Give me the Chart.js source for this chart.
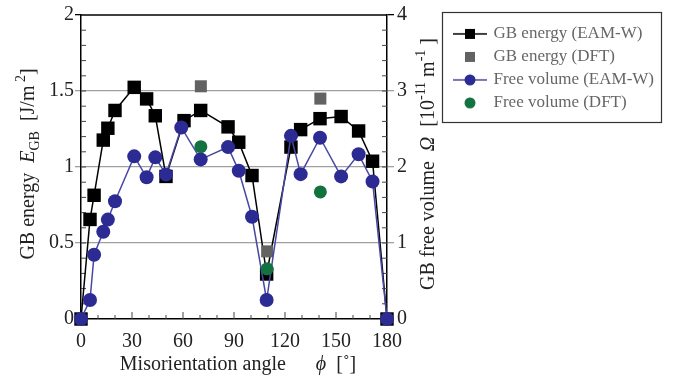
<!DOCTYPE html>
<html>
<head>
<meta charset="utf-8">
<script src="https://cdn.jsdelivr.net/npm/chart.js@4"></script>
<style>
html, body { margin: 0; padding: 0; background: #fff; }
#wrap { width: 681px; height: 381px; }
</style>
</head>
<body>
<div id="wrap"><canvas id="myChart" width="681" height="381"></canvas></div>
<script>
// misorientation angles (deg) of the EAM-W boundaries
const angles = [0, 5.3, 7.7, 13.1, 15.8, 20, 31.3, 38.6, 43.7, 50, 60.6, 70.4, 86.5, 92.8, 100.6, 109.2, 123.5, 129.2, 140.6, 153, 163.3, 171.5, 180];
const energyEAM = [0, 0.655, 0.814, 1.177, 1.255, 1.372, 1.524, 1.448, 1.337, 0.938, 1.305, 1.372, 1.264, 1.163, 0.944, 0.296, 1.131, 1.246, 1.318, 1.332, 1.237, 1.038, 0];
const volumeAngles = [0, 5.3, 7.7, 13.1, 15.8, 20, 31.3, 38.6, 43.7, 50, 59, 70.4, 86.5, 92.8, 100.6, 109.2, 123.5, 129.2, 140.6, 153, 163.3, 171.5, 180];
const volumeEAM = [0, 0.25, 0.845, 1.148, 1.308, 1.55, 2.14, 1.865, 2.127, 1.9, 2.52, 2.1, 2.262, 1.95, 1.345, 0.25, 2.41, 1.906, 2.385, 1.876, 2.167, 1.81, 0];
const dftAngles = [70.5, 109.5, 140.8];
const energyDFT = [1.531, 0.445, 1.45];
const volumeDFT = [2.267, 0.66, 1.672];

const xTicks = [0, 30, 60, 90, 120, 150, 180];
const energyTicks = [0, 0.5, 1, 1.5, 2];
const volumeTicks = [0, 1, 2, 3, 4];

const SERIF = "'Liberation Serif', 'Times New Roman', Times, serif";
const BLUE = '#2b2b93';
const BLUE_LINE = '#4848a2';
const GREEN = '#137340';
const GRAY = '#626262';
const GRID = '#a0a0a0';

function pairs(xs, ys) {
    return xs.map((x, i) => ({ x: x, y: ys[i] }));
}

// small canvas used as legend symbol (line + marker)
function legendIcon(lineColor, marker, fill, size) {
    const c = document.createElement('canvas');
    c.width = 36;
    c.height = 16;
    const g = c.getContext('2d');
    if (lineColor) {
        g.strokeStyle = lineColor;
        g.lineWidth = 1.5;
        g.beginPath();
        g.moveTo(1, 8);
        g.lineTo(35, 8);
        g.stroke();
    }
    g.fillStyle = fill;
    if (marker === 'rect') {
        g.fillRect(18 - size / 2, 8 - size / 2, size, size);
    } else {
        g.beginPath();
        g.arc(18, 8, size / 2, 0, Math.PI * 2);
        g.fill();
    }
    return c;
}

const icons = [
    legendIcon('#000', 'rect', '#000', 10),
    legendIcon(null, 'rect', GRAY, 10),
    legendIcon(BLUE_LINE, 'circle', BLUE, 11),
    legendIcon(null, 'circle', GREEN, 11)
];

// draw text pieces (sub/superscripts, italics) around a centre point
function drawRich(ctx, parts, cx, cy, rot) {
    ctx.save();
    ctx.translate(cx, cy);
    ctx.rotate(rot);
    ctx.fillStyle = '#222';
    ctx.textBaseline = 'alphabetic';
    ctx.textAlign = 'left';
    let total = 0;
    parts.forEach(p => {
        ctx.font = p.font;
        p.w = ctx.measureText(p.t).width;
        total += p.w;
    });
    let x = -total / 2;
    parts.forEach(p => {
        ctx.font = p.font;
        ctx.fillText(p.t, x, 7 + (p.dy || 0));
        x += p.w;
    });
    ctx.restore();
}

const N = '20px ' + SERIF;
const I = 'italic 20px ' + SERIF;
const S = '14px ' + SERIF;

const framePlugin = {
    id: 'frame',
    beforeDatasetsDraw(chart) {
        const { ctx, chartArea: a, scales } = chart;
        ctx.save();
        ctx.strokeStyle = '#000';
        ctx.lineWidth = 1.5;
        ctx.beginPath();
        ctx.moveTo(a.left, a.top);
        ctx.lineTo(a.right, a.top);
        ctx.stroke();
        ctx.strokeStyle = '#444';
        ctx.lineWidth = 1;
        ctx.beginPath();
        // inner ticks on the angle axis
        for (let v = 10; v < 180; v += 10) {
            const px = scales.x.getPixelForValue(v);
            const len = v % 30 === 0 ? 7 : 4;
            ctx.moveTo(px, a.bottom);
            ctx.lineTo(px, a.bottom - len);
        }
        // inner minor ticks, energy axis
        for (let k = 1; k < 20; k++) {
            const py = scales.y.getPixelForValue(k / 10);
            ctx.moveTo(a.left, py);
            ctx.lineTo(a.left + 5, py);
        }
        // inner minor ticks, volume axis
        for (let k = 1; k < 20; k++) {
            const py = scales.y2.getPixelForValue(k / 5);
            ctx.moveTo(a.right, py);
            ctx.lineTo(a.right - 5, py);
        }
        ctx.stroke();
        ctx.restore();
    },
    afterDraw(chart) {
        const { ctx, chartArea: a, legend } = chart;
        const midY = (a.top + a.bottom) / 2 - 3;
        drawRich(ctx, [
            { t: 'GB energy', font: N },
            { t: '  ', font: N },
            { t: 'E', font: I },
            { t: 'GB', font: S, dy: 5 },
            { t: '  [J/m', font: N },
            { t: ' 2', font: S, dy: -9 },
            { t: ']', font: N }
        ], 27, midY, -Math.PI / 2);
        drawRich(ctx, [
            { t: 'GB free volume', font: N },
            { t: '  ', font: N },
            { t: '\u03A9', font: I },
            { t: '  [10', font: N },
            { t: '-11', font: S, dy: -9 },
            { t: ' m', font: N },
            { t: '-1', font: S, dy: -9 },
            { t: ' ]', font: N }
        ], a.right + 40, midY, -Math.PI / 2);
        drawRich(ctx, [
            { t: 'Misorientation angle', font: N },
            { t: '      ', font: N },
            { t: '\u03D5', font: I },
            { t: '  [\u02DA]', font: N }
        ], (a.left + a.right) / 2 + 4, 363, 0);
        // legend frame
        ctx.save();
        ctx.strokeStyle = '#333';
        ctx.lineWidth = 1.2;
        ctx.strokeRect(legend.left - 6.5, legend.top + 0.5, 219, 110);
        ctx.restore();
    }
};

function tickText(v) {
    return String(v);
}

function draw() {
    const ctx = document.getElementById('myChart').getContext('2d');
    new Chart(ctx, {
        type: 'line',
        data: {
            datasets: [{
                label: 'GB energy (EAM-W)',
                data: pairs(angles, energyEAM),
                yAxisID: 'y',
                clip: false,
                borderColor: '#000',
                borderWidth: 1.5,
                pointStyle: 'rect',
                pointRadius: 9.5,
                pointBackgroundColor: '#000',
                pointBorderColor: '#000',
                pointBorderWidth: 0,
                order: 4
            }, {
                label: 'GB energy (DFT)',
                data: pairs(dftAngles, energyDFT),
                yAxisID: 'y',
                clip: false,
                showLine: false,
                pointStyle: 'rect',
                pointRadius: 8.5,
                pointBackgroundColor: GRAY,
                pointBorderColor: GRAY,
                pointBorderWidth: 0,
                order: 3
            }, {
                label: 'Free volume (EAM-W)',
                data: pairs(volumeAngles, volumeEAM),
                yAxisID: 'y2',
                clip: false,
                borderColor: BLUE_LINE,
                borderWidth: 1.5,
                pointStyle: 'circle',
                pointRadius: 7,
                pointBackgroundColor: BLUE,
                pointBorderColor: BLUE,
                pointBorderWidth: 0,
                order: 2
            }, {
                label: 'Free volume (DFT)',
                data: pairs(dftAngles, volumeDFT),
                yAxisID: 'y2',
                clip: false,
                showLine: false,
                pointStyle: 'circle',
                pointRadius: 6.5,
                pointBackgroundColor: GREEN,
                pointBorderColor: GREEN,
                pointBorderWidth: 0,
                order: 1
            }]
        },
        options: {
            responsive: false,
            animation: false,
            devicePixelRatio: 1,
            layout: { padding: { top: 12, right: 18, bottom: 0, left: 0 } },
            scales: {
                x: {
                    type: 'linear',
                    min: 0,
                    max: 180,
                    afterBuildTicks: s => { s.ticks = xTicks.map(v => ({ value: v })); },
                    afterFit: s => { s.height = 62; },
                    grid: { drawOnChartArea: false, drawTicks: false },
                    border: { color: '#000', width: 1.5 },
                    ticks: { padding: 11, color: '#222', maxRotation: 0, font: { family: SERIF, size: 20 }, callback: tickText }
                },
                y: {
                    position: 'left',
                    min: 0,
                    max: 2,
                    afterBuildTicks: s => { s.ticks = energyTicks.map(v => ({ value: v })); },
                    afterFit: s => { s.width = 81; },
                    grid: {
                        color: c => (c.tick && c.tick.value > 0 && c.tick.value < 2) ? GRID : 'rgba(0,0,0,0)',
                        tickColor: c => (c.tick && c.tick.value > 0 && c.tick.value < 2) ? GRID : '#000',
                        lineWidth: 1.3,
                        tickLength: 6
                    },
                    border: { color: '#000', width: 1.5 },
                    ticks: { padding: 1, color: '#222', font: { family: SERIF, size: 20 }, callback: tickText }
                },
                y2: {
                    position: 'right',
                    min: 0,
                    max: 4,
                    afterBuildTicks: s => { s.ticks = volumeTicks.map(v => ({ value: v })); },
                    afterFit: s => { s.width = 62; },
                    grid: {
                        drawOnChartArea: false,
                        tickColor: c => (c.tick && c.tick.value > 0 && c.tick.value < 4) ? GRID : '#000',
                        lineWidth: 1.3,
                        tickLength: 7
                    },
                    border: { color: '#000', width: 1.5 },
                    ticks: { padding: 3, color: '#222', font: { family: SERIF, size: 20 }, callback: tickText }
                }
            },
            plugins: {
                tooltip: { enabled: false },
                legend: {
                    position: 'right',
                    align: 'start',
                    maxWidth: 214,
                    title: { display: true, text: ' ', font: { size: 2 }, padding: { top: 0, bottom: 5 } },
                    labels: {
                        usePointStyle: true,
                        pointStyleWidth: 30,
                        padding: 6,
                        color: '#222',
                        font: { family: SERIF, size: 17 },
                        generateLabels: chart => chart.data.datasets.map((ds, i) => ({
                            text: ds.label,
                            pointStyle: icons[i],
                            datasetIndex: i,
                            hidden: false,
                            lineWidth: 0,
                            strokeStyle: 'rgba(0,0,0,0)',
                            fillStyle: 'rgba(0,0,0,0)'
                        }))
                    }
                }
            }
        },
        plugins: [framePlugin]
    });
}

if (document.fonts && document.fonts.load) {
    Promise.all([
        document.fonts.load("20px 'Liberation Serif'"),
        document.fonts.load("italic 20px 'Liberation Serif'")
    ]).then(draw, draw);
} else {
    draw();
}
</script>
</body>
</html>
